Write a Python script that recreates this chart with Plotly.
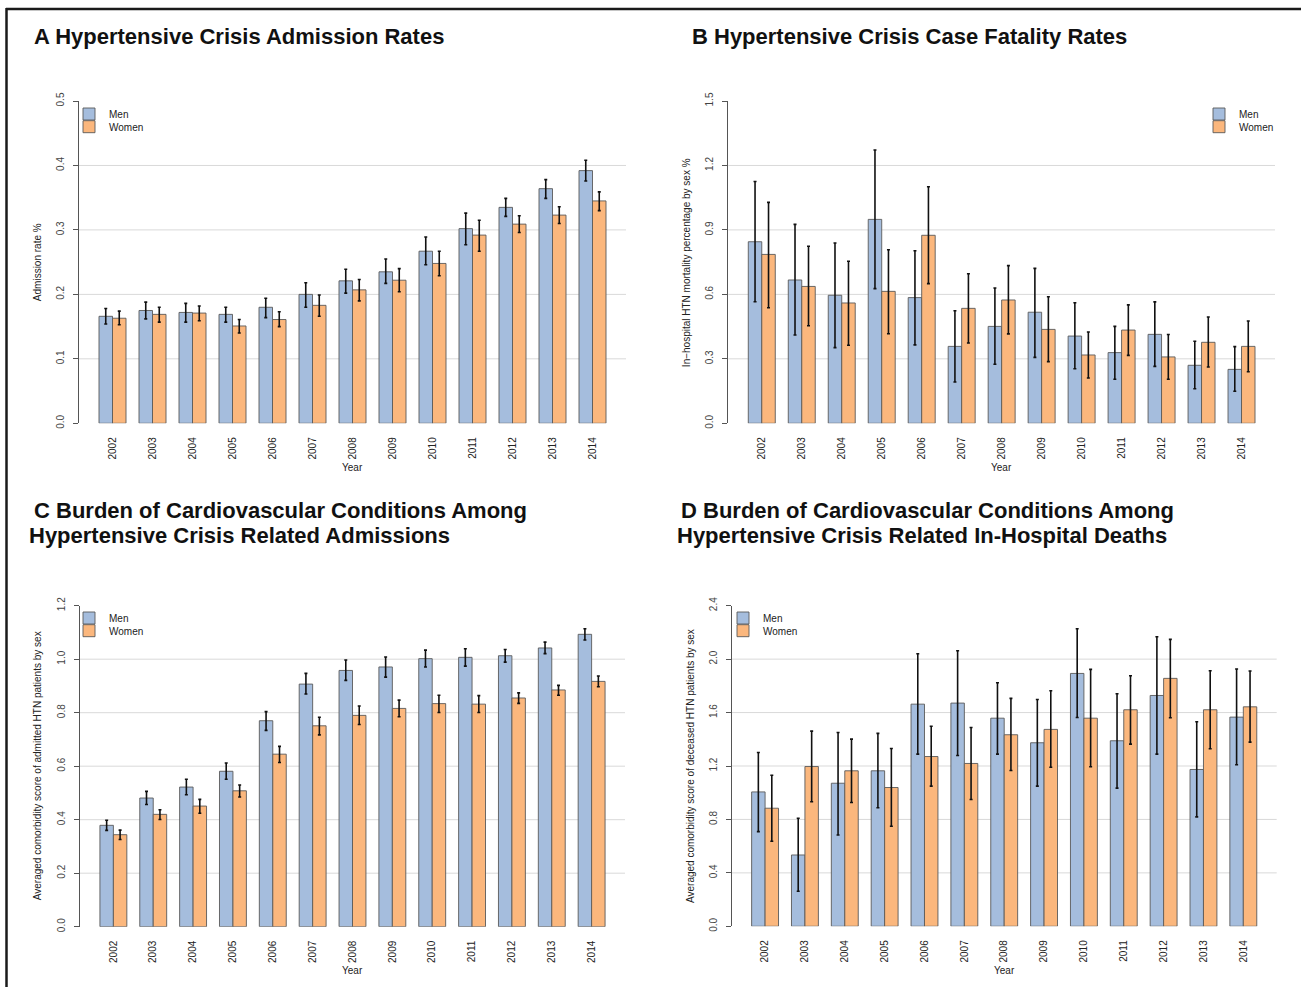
import plotly.graph_objects as go

W, H = 1301, 987

years = [2002, 2003, 2004, 2005, 2006, 2007, 2008, 2009, 2010, 2011, 2012, 2013, 2014]
year_labels = [str(y) for y in years]

# Panel A: admission rate %
A_men = [0.166, 0.175, 0.172, 0.169, 0.180, 0.200, 0.221, 0.235, 0.267, 0.302, 0.335, 0.364, 0.392]
A_men_lo = [0.154, 0.162, 0.157, 0.157, 0.164, 0.180, 0.202, 0.217, 0.246, 0.277, 0.321, 0.349, 0.376]
A_men_hi = [0.178, 0.188, 0.186, 0.180, 0.194, 0.218, 0.239, 0.255, 0.289, 0.326, 0.349, 0.378, 0.408]
A_women = [0.163, 0.169, 0.171, 0.151, 0.161, 0.183, 0.207, 0.222, 0.248, 0.292, 0.309, 0.323, 0.345]
A_women_lo = [0.153, 0.157, 0.159, 0.140, 0.150, 0.166, 0.190, 0.204, 0.229, 0.267, 0.296, 0.310, 0.330]
A_women_hi = [0.174, 0.180, 0.182, 0.161, 0.173, 0.199, 0.223, 0.240, 0.267, 0.315, 0.322, 0.336, 0.359]

# Panel B: in-hospital mortality %
B_men = [0.845, 0.667, 0.596, 0.949, 0.585, 0.358, 0.451, 0.517, 0.406, 0.329, 0.414, 0.270, 0.251]
B_men_lo = [0.566, 0.411, 0.352, 0.627, 0.365, 0.192, 0.275, 0.307, 0.254, 0.205, 0.265, 0.161, 0.149]
B_men_hi = [1.125, 0.926, 0.839, 1.272, 0.803, 0.524, 0.630, 0.721, 0.561, 0.451, 0.565, 0.382, 0.357]
B_women = [0.786, 0.637, 0.560, 0.614, 0.875, 0.535, 0.574, 0.437, 0.318, 0.434, 0.309, 0.377, 0.358]
B_women_lo = [0.538, 0.454, 0.363, 0.417, 0.650, 0.374, 0.416, 0.287, 0.211, 0.316, 0.205, 0.262, 0.240]
B_women_hi = [1.028, 0.824, 0.754, 0.808, 1.101, 0.696, 0.734, 0.589, 0.425, 0.551, 0.413, 0.495, 0.476]

# Panel C: comorbidity score, admitted
C_men = [0.379, 0.481, 0.522, 0.581, 0.770, 0.907, 0.958, 0.971, 1.002, 1.007, 1.013, 1.042, 1.093]
C_men_lo = [0.360, 0.457, 0.493, 0.551, 0.734, 0.870, 0.921, 0.933, 0.971, 0.974, 0.989, 1.021, 1.072]
C_men_hi = [0.398, 0.506, 0.551, 0.612, 0.804, 0.947, 0.997, 1.008, 1.034, 1.039, 1.036, 1.064, 1.114]
C_women = [0.344, 0.420, 0.451, 0.508, 0.645, 0.751, 0.790, 0.816, 0.834, 0.832, 0.855, 0.885, 0.917]
C_women_lo = [0.326, 0.401, 0.424, 0.485, 0.614, 0.717, 0.756, 0.785, 0.801, 0.801, 0.835, 0.865, 0.897]
C_women_hi = [0.361, 0.437, 0.476, 0.530, 0.674, 0.783, 0.825, 0.847, 0.865, 0.864, 0.874, 0.902, 0.937]

# Panel D: comorbidity score, deceased
D_men = [1.006, 0.534, 1.071, 1.164, 1.663, 1.671, 1.558, 1.374, 1.893, 1.389, 1.728, 1.174, 1.566]
D_men_lo = [0.709, 0.262, 0.684, 0.887, 1.289, 1.279, 1.289, 1.049, 1.563, 1.034, 1.289, 0.819, 1.209]
D_men_hi = [1.301, 0.809, 1.451, 1.444, 2.040, 2.063, 1.823, 1.698, 2.228, 1.741, 2.168, 1.531, 1.926]
D_women = [0.884, 1.196, 1.164, 1.039, 1.271, 1.219, 1.434, 1.474, 1.558, 1.621, 1.856, 1.621, 1.643]
D_women_lo = [0.637, 0.932, 0.927, 0.749, 1.049, 0.949, 1.166, 1.191, 1.194, 1.364, 1.561, 1.329, 1.379]
D_women_hi = [1.131, 1.461, 1.401, 1.331, 1.498, 1.488, 1.706, 1.763, 1.923, 1.876, 2.148, 1.913, 1.911]

A_ticks = [0.0, 0.1, 0.2, 0.3, 0.4, 0.5]
B_ticks = [0.0, 0.3, 0.6, 0.9, 1.2, 1.5]
C_ticks = [0.0, 0.2, 0.4, 0.6, 0.8, 1.0, 1.2]
D_ticks = [0.0, 0.4, 0.8, 1.2, 1.6, 2.0, 2.4]

series_names = ["Men", "Women"]

titles = [
    ["A Hypertensive Crisis Admission Rates"],
    ["B Hypertensive Crisis Case Fatality Rates"],
    ["C Burden of Cardiovascular Conditions Among", "Hypertensive Crisis Related Admissions"],
    ["D Burden of Cardiovascular Conditions Among", "Hypertensive Crisis Related In-Hospital Deaths"],
]
ytitles = [
    "Admission rate %",
    "In\u2212hospital HTN mortality percentage by sex %",
    "Averaged comorbidity score of admitted HTN patients by sex",
    "Averaged comorbidity score of deceased HTN patients by sex",
]

MEN_C = "#A5BDDD"
WOMEN_C = "#FBB77D"
FONT = "Liberation Sans, Arial, Helvetica, sans-serif"

# layout geometry (pixels)
panels = [
    dict(x0=79, x1=626, ytop=101, ybot=423.3, ticks=A_ticks, men=(A_men, A_men_lo, A_men_hi),
         women=(A_women, A_women_lo, A_women_hi), ytx=37, leg=(89, 114),
         title_pos=[(32, 36)]),
    dict(x0=728.3, x1=1275, ytop=101, ybot=423.3, ticks=B_ticks, men=(B_men, B_men_lo, B_men_hi),
         women=(B_women, B_women_lo, B_women_hi), ytx=686, leg=(1219, 114),
         title_pos=[(690, 36)]),
    dict(x0=80, x1=625, ytop=605.7, ybot=926.7, ticks=C_ticks, men=(C_men, C_men_lo, C_men_hi),
         women=(C_women, C_women_lo, C_women_hi), ytx=37, leg=(89, 618),
         title_pos=[(32, 511), (27, 536)]),
    dict(x0=731.7, x1=1276.7, ytop=605.7, ybot=926.3, ticks=D_ticks, men=(D_men, D_men_lo, D_men_hi),
         women=(D_women, D_women_lo, D_women_hi), ytx=690, leg=(743, 618),
         title_pos=[(679, 511), (675, 536)]),
]

fig = go.Figure()
layout = dict(
    template="none",
    width=W, height=H, autosize=False,
    margin=dict(l=0, r=0, t=0, b=0, pad=0, autoexpand=False),
    paper_bgcolor="white", plot_bgcolor="white",
    showlegend=True,
    barmode="group", bargap=0.325, bargroupgap=0,
    font=dict(family=FONT, color="#222", size=10),
    annotations=[], shapes=[],
)

leg_idx = 0
for i, p in enumerate(panels):
    n = "" if i == 0 else str(i + 1)
    xa, ya = "x" + n, "y" + n
    for k, ((vals, lo, hi), col) in enumerate(((p["men"], MEN_C), (p["women"], WOMEN_C))):
        leg_idx += 1
        leg = "legend" if leg_idx == 1 else "legend%d" % leg_idx
        fig.add_trace(go.Bar(
            x=years, y=vals, name=series_names[k], xaxis=xa, yaxis=ya, legend=leg,
            showlegend=True,
            marker=dict(color=col, line=dict(color="#5a5a5a", width=0.9)),
            error_y=dict(type="data", symmetric=False,
                         array=[h - v for h, v in zip(hi, vals)],
                         arrayminus=[v - l for v, l in zip(vals, lo)],
                         color="#111", thickness=1.6, width=1.5),
            offsetgroup=series_names[k],
        ))
        # one legend per entry, so the rows sit as tightly as in the original
        cy = p["leg"][1] + 12.7 * k
        layout[leg] = dict(
            visible=True,
            x=(p["leg"][0] - 20) / W, y=(H - cy) / H, xanchor="left", yanchor="middle",
            bgcolor="rgba(0,0,0,0)", font=dict(size=10, color="#222"),
            itemwidth=30, borderwidth=0,
        )
    ticks = p["ticks"]
    layout["xaxis" + n] = dict(
        domain=[p["x0"] / W, p["x1"] / W], anchor=ya, automargin=False,
        range=[2002 - 33.5 / 40, 2014 + 33.5 / 40],
        tickmode="array", tickvals=years, ticktext=year_labels, tickangle=-90,
        ticks="", showline=False, showgrid=False, zeroline=False,
        ticklabelstandoff=11, tickfont=dict(size=10, color="#222"),
    )
    layout["yaxis" + n] = dict(
        domain=[(H - p["ybot"]) / H, (H - p["ytop"]) / H], anchor=xa, automargin=False,
        range=[ticks[0], ticks[-1]],
        tickmode="array", tickvals=ticks, ticktext=["%.1f" % t for t in ticks], tickangle=-90,
        ticks="outside", ticklen=5, tickcolor="#555", showline=True, linecolor="#555", linewidth=1,
        showgrid=False, zeroline=False, ticklabelstandoff=5,
        tickfont=dict(size=10, color="#444"),
    )
    for t in ticks[1:-1]:
        layout["shapes"].append(dict(type="line", xref=xa + " domain", x0=0, x1=1,
                                     yref=ya, y0=t, y1=t, layer="below",
                                     line=dict(color="#D9D9D9", width=1)))
    # panel titles
    for (tx, ty), txt in zip(p["title_pos"], titles[i]):
        layout["annotations"].append(dict(
            text="<b>" + txt + "</b>", xref="paper", yref="paper",
            x=tx / W, y=(H - ty) / H, xanchor="left", yanchor="middle",
            showarrow=False, font=dict(size=22, color="#111", family=FONT)))
    # y-axis title
    layout["annotations"].append(dict(
        text=ytitles[i], xref="paper", yref=ya + " domain",
        x=p["ytx"] / W, y=0.5, xanchor="center", yanchor="middle", textangle=-90,
        showarrow=False, font=dict(size=10, color="#222")))
    # x-axis title
    layout["annotations"].append(dict(
        text="Year", xref=xa + " domain", yref="paper",
        x=0.5, y=(H - p["ybot"] - 44) / H, xanchor="center", yanchor="middle",
        showarrow=False, font=dict(size=10, color="#222")))

# outer frame lines (top and left)
layout["shapes"].append(dict(type="line", xref="paper", yref="paper",
                             x0=6 / W, x1=1, y0=(H - 9) / H, y1=(H - 9) / H,
                             line=dict(color="#1a1a1a", width=2.5)))
layout["shapes"].append(dict(type="line", xref="paper", yref="paper",
                             x0=6.5 / W, x1=6.5 / W, y0=0, y1=(H - 8) / H,
                             line=dict(color="#1a1a1a", width=2.5)))

fig.update_layout(**layout)
fig.write_html(
    "out.html",
    config={"displayModeBar": False},
    post_script=(
        "document.documentElement.style.margin='0';"
        "document.body.style.margin='0';"
        "var d=document.getElementById('{plot_id}');"
        "d.style.position='fixed';d.style.top='0px';d.style.left='0px';"
    ),
)
